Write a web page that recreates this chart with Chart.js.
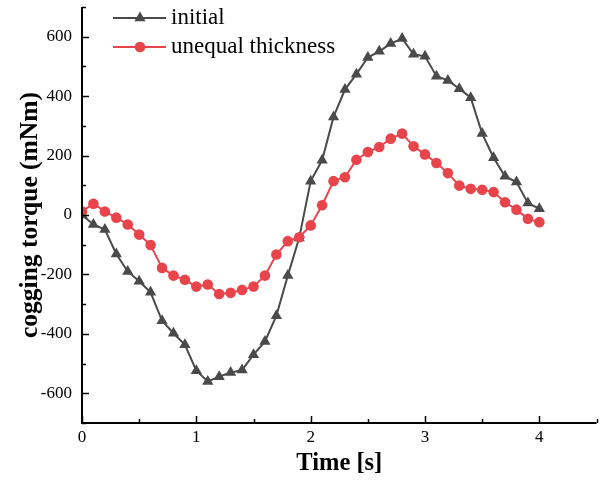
<!DOCTYPE html>
<html>
<head>
<meta charset="utf-8">
<script src="https://cdn.jsdelivr.net/npm/chart.js@4/dist/chart.umd.min.js"></script>
<style>
  html, body { margin: 0; padding: 0; background: #fff; }
  #wrap { width: 603px; height: 480px; }
</style>
</head>
<body>
<div id="wrap"><canvas id="myChart" width="603" height="480"></canvas></div>
<script>
// time axis (s)
var times = [0, 0.1, 0.2, 0.3, 0.4, 0.5, 0.6, 0.7, 0.8, 0.9,
             1.0, 1.1, 1.2, 1.3, 1.4, 1.5, 1.6, 1.7, 1.8, 1.9,
             2.0, 2.1, 2.2, 2.3, 2.4, 2.5, 2.6, 2.7, 2.8, 2.9,
             3.0, 3.1, 3.2, 3.3, 3.4, 3.5, 3.6, 3.7, 3.8, 3.9, 4.0];

// cogging torque (mNm)
var initial = [0, -32, -49, -131, -190, -223, -260, -356, -398, -437,
               -524, -560, -544, -530, -522, -470, -426, -339, -204, -77,
               114, 184, 330, 422, 474, 530, 551, 577, 594, 541,
               534, 467, 453, 425, 395, 274, 193, 130, 111, 40, 21];

var unequal = [12, 38, 12, -9, -32, -66, -101, -178, -204, -218,
               -241, -234, -266, -262, -252, -241, -204, -133, -88, -75,
               -35, 33, 114, 127, 186, 212, 229, 257, 274, 231,
               204, 175, 141, 99, 88, 85, 77, 43, 18, -13, -24];

var xTicks = [0, 1, 2, 3, 4];
var yTicks = [-600, -400, -200, 0, 200, 400, 600];

var GREY = '#4a4a4a';
var RED = '#e8444c';
var SERIF = "'Liberation Serif', 'Times New Roman', serif";

function pairs(xs, ys) {
    return xs.map(function (x, i) { return {x: x, y: ys[i]}; });
}

// axes drawn by hand so the ticks point inward like the original
var axesPlugin = {
    id: 'axesPlugin',
    afterDraw: function (chart) {
        var c = chart.ctx, a = chart.chartArea;
        var xs = chart.scales.x, ys = chart.scales.y;
        c.save();
        c.strokeStyle = '#000';
        c.lineWidth = 2;
        c.beginPath();
        c.moveTo(a.left, a.top);
        c.lineTo(a.left, a.bottom);
        c.lineTo(a.right, a.bottom);
        c.stroke();
        c.lineWidth = 1.5;
        c.beginPath();
        xs.ticks.forEach(function (t) {
            var px = Math.round(xs.getPixelForValue(t.value)) + 0.5;
            var len = xTicks.indexOf(t.value) >= 0 ? 7 : 4;
            c.moveTo(px, a.bottom);
            c.lineTo(px, a.bottom - len);
        });
        ys.ticks.forEach(function (t) {
            var py = Math.round(ys.getPixelForValue(t.value)) + 0.5;
            var len = yTicks.indexOf(t.value) >= 0 ? 7 : 4;
            c.moveTo(a.left, py);
            c.lineTo(a.left + len, py);
        });
        c.stroke();
        c.restore();
    }
};

// legend: line with marker in the middle, top-left inside the plot
var legendPlugin = {
    id: 'legendPlugin',
    afterDraw: function (chart) {
        var c = chart.ctx;
        var items = [
            {label: 'initial', color: GREY, shape: 'triangle', y: 18},
            {label: 'unequal thickness', color: RED, shape: 'circle', y: 47}
        ];
        c.save();
        items.forEach(function (it) {
            c.strokeStyle = it.color;
            c.fillStyle = it.color;
            c.lineWidth = 2;
            c.beginPath();
            c.moveTo(113, it.y);
            c.lineTo(166, it.y);
            c.stroke();
            c.beginPath();
            if (it.shape === 'circle') {
                c.arc(140, it.y, 5.3, 0, Math.PI * 2);
            } else {
                var r = 6.5;
                c.moveTo(140, it.y - r);
                c.lineTo(140 + r * 0.866, it.y + r / 2);
                c.lineTo(140 - r * 0.866, it.y + r / 2);
                c.closePath();
            }
            c.fill();
            c.fillStyle = '#000';
            c.font = '23px ' + SERIF;
            c.textBaseline = 'alphabetic';
            c.textAlign = 'left';
            c.fillText(it.label, 171, it.y + 6);
        });
        c.restore();
    }
};

var ctx = document.getElementById('myChart').getContext('2d');
var myChart = new Chart(ctx, {
    type: 'line',
    data: {
        datasets: [
            {
                label: 'initial',
                data: pairs(times, initial),
                borderColor: GREY,
                backgroundColor: GREY,
                borderWidth: 2,
                pointStyle: 'triangle',
                pointRadius: 6.5,
                pointBorderWidth: 0,
                fill: false,
                tension: 0,
                order: 1
            },
            {
                label: 'unequal thickness',
                data: pairs(times, unequal),
                borderColor: RED,
                backgroundColor: RED,
                borderWidth: 2,
                pointStyle: 'circle',
                pointRadius: 5.3,
                pointBorderWidth: 0,
                fill: false,
                tension: 0,
                order: 0
            }
        ]
    },
    options: {
        responsive: false,
        animation: false,
        layout: { padding: { top: 7, right: 2, left: 0, bottom: 0 } },
        plugins: {
            legend: { display: false },
            tooltip: { enabled: false }
        },
        scales: {
            x: {
                type: 'linear',
                min: 0,
                max: 4.5,
                grid: { display: false, drawTicks: false },
                border: { display: false },
                ticks: {
                    stepSize: 0.5,
                    autoSkip: false,
                    maxRotation: 0,
                    padding: 4,
                    color: '#000',
                    font: { family: SERIF, size: 17 },
                    callback: function (v) { return xTicks.indexOf(v) >= 0 ? String(v) : ''; }
                },
                title: {
                    display: true,
                    text: 'Time [s]',
                    color: '#000',
                    font: { family: SERIF, size: 24.5, weight: 'bold', lineHeight: 1.2 },
                    padding: { top: 0, bottom: 2 }
                },
                afterFit: function (s) { s.height = 57; s.paddingLeft = 0; s.paddingRight = 0; }
            },
            y: {
                min: -700,
                max: 700,
                grid: { display: false, drawTicks: false },
                border: { display: false },
                ticks: {
                    stepSize: 100,
                    autoSkip: false,
                    padding: 10,
                    color: '#000',
                    font: { family: SERIF, size: 17 },
                    callback: function (v) { return yTicks.indexOf(v) >= 0 ? String(v) : ''; }
                },
                title: {
                    display: true,
                    text: 'cogging torque (mNm)',
                    color: '#000',
                    font: { family: SERIF, size: 25.5, weight: 'bold', lineHeight: 1.2 },
                    padding: { top: 15, bottom: 0 }
                },
                afterFit: function (s) { s.width = 82; s.paddingTop = 0; s.paddingBottom = 0; }
            }
        }
    },
    plugins: [axesPlugin, legendPlugin]
});
</script>
</body>
</html>
